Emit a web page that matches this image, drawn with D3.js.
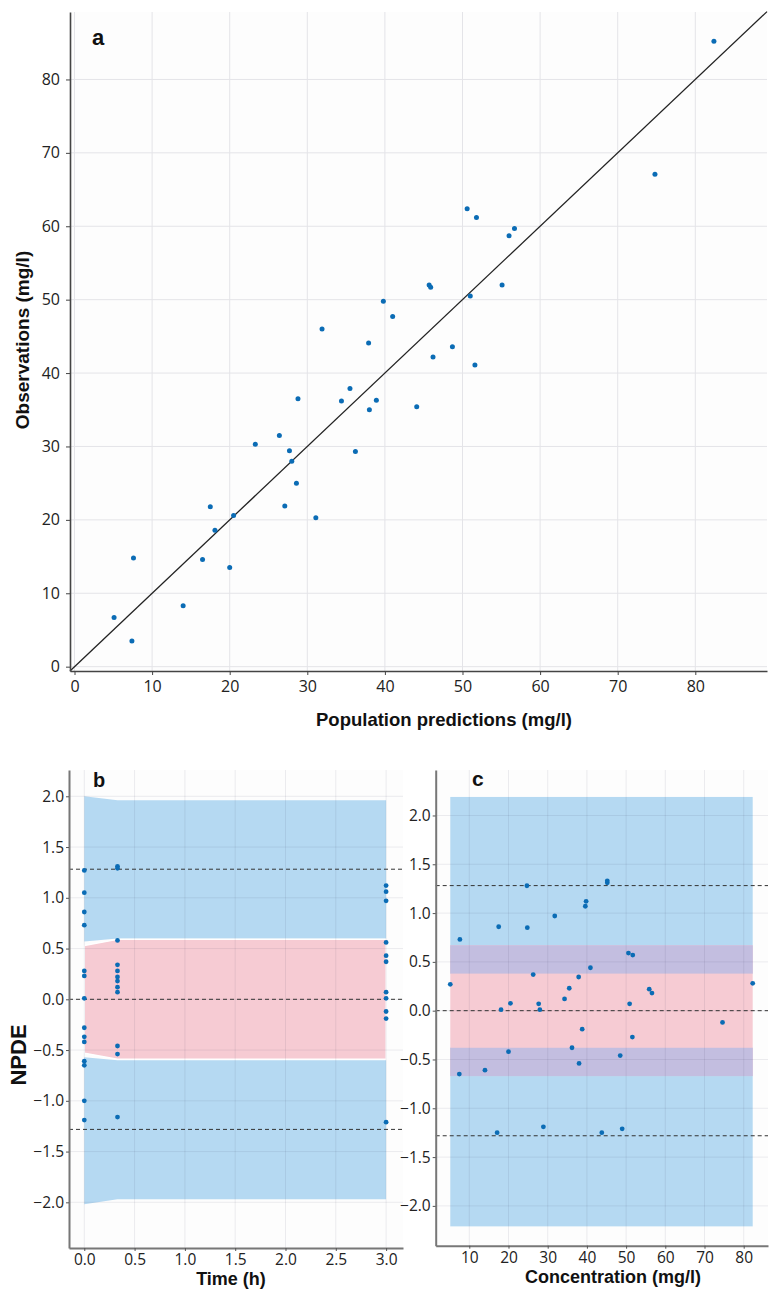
<!DOCTYPE html>
<html>
<head>
<meta charset="utf-8">
<script src="https://cdn.jsdelivr.net/npm/d3@7"></script>
<style>
  body { margin: 0; background: #fff; }
  text { font-family: "Open Sans", sans-serif; }
  .ttl { font-family: "Liberation Sans", Arial, sans-serif; font-weight: bold; fill: #111; }
</style>
</head>
<body>
<script>
// ---- panel a : observations vs population predictions
var predA = [5.1, 7.4, 7.6, 14.0, 16.5, 17.5, 18.1, 20.0, 20.5, 23.3, 26.4, 27.1, 27.7, 28.0, 28.6, 28.8, 31.1, 31.9, 34.4, 35.5,
             36.2, 37.9, 38.0, 38.9, 39.8, 41.0, 44.1, 45.7, 45.9, 46.2, 48.7, 50.6, 51.0, 51.6, 51.8, 55.1, 56.0, 56.7, 74.8, 82.4];
var obsA  = [6.7, 3.5, 14.8, 8.3, 14.6, 21.8, 18.6, 13.5, 20.6, 30.3, 31.5, 21.9, 29.4, 28.0, 25.0, 36.5, 20.3, 46.0, 36.2, 37.9,
             29.3, 44.1, 35.0, 36.3, 49.8, 47.7, 35.4, 52.0, 51.7, 42.2, 43.6, 62.4, 50.5, 41.1, 61.2, 52.0, 58.7, 59.7, 67.1, 85.2];
var ticksA = [0, 10, 20, 30, 40, 50, 60, 70, 80];

// ---- panel b : NPDE vs time
var timeB = [0, 0, 0, 0, 0, 0, 0, 0, 0, 0, 0, 0, 0, 0,
             0.33, 0.33, 0.33, 0.33, 0.33, 0.33, 0.33, 0.33, 0.33, 0.33, 0.33, 0.33,
             3, 3, 3, 3, 3, 3, 3, 3, 3, 3, 3];
var npdeB = [1.27, 1.05, 0.86, 0.73, 0.28, 0.23, 0.01, -0.28, -0.37, -0.42, -0.61, -0.65, -1.0, -1.19,
             1.31, 1.29, 0.58, 0.34, 0.28, 0.22, 0.18, 0.12, 0.07, -0.46, -0.54, -1.16,
             1.12, 1.06, 0.97, 0.56, 0.43, 0.37, 0.07, 0.01, -0.12, -0.19, -1.21];
var bandTimeB = [0, 0.33, 3];
var upHiB  = [2.0, 1.96, 1.96],   upLoB  = [0.57, 0.60, 0.60];
var midHiB = [0.53, 0.59, 0.59],  midLoB = [-0.53, -0.59, -0.59];
var lowHiB = [-0.57, -0.60, -0.60], lowLoB = [-2.02, -1.97, -1.97];
var ticksXB = [0, 0.5, 1, 1.5, 2, 2.5, 3];

// ---- panel c : NPDE vs concentration
var concC = [5.15, 7.45, 7.6, 14.0, 17.1, 17.5, 18.1, 20.0, 20.5, 24.7, 24.8, 26.3, 27.7, 28.0, 28.9, 31.8, 34.3, 35.5, 36.2,
             37.9, 38.0, 38.8, 39.6, 39.8, 40.9, 43.8, 45.2, 45.2, 48.5, 49.0, 50.6, 50.9, 51.6, 51.7, 55.9, 56.6, 74.6, 82.3];
var npdeC = [0.27, -0.65, 0.73, -0.61, -1.25, 0.86, 0.01, -0.42, 0.075, 1.28, 0.85, 0.37, 0.07, 0.01, -1.19, 0.97, 0.12, 0.23, -0.38,
             0.345, -0.54, -0.19, 1.07, 1.12, 0.44, -1.25, 1.33, 1.31, -0.46, -1.21, 0.59, 0.07, -0.27, 0.57, 0.22, 0.18, -0.12, 0.28];
var bandConcC = [5.15, 82.3];
var upperC = [0.38, 2.19], middleC = [-0.67, 0.67], lowerC = [-2.21, -0.38];
var ticksXC = [10, 20, 30, 40, 50, 60, 70, 80];
var ticksY = [-2, -1.5, -1, -0.5, 0, 0.5, 1, 1.5, 2];
var refLines = [-1.2816, 0, 1.2816];

var dotColor = "#0b6cb5", blue = "#b5d9f2", pink = "#f6cbd3", purple = "#c3bee0";

var svg = d3.select("body").append("svg").attr("width", 769).attr("height", 1290);
var fmt1 = d3.format(".1f");

// ================= panel a
var xA = d3.scaleLinear().domain([-0.58, 89.24]).range([70, 767]);
var yA = d3.scaleLinear().domain([-0.59, 89.19]).range([671, 12]);
var gA = svg.append("g");
gA.append("rect").attr("x", 70).attr("y", 12).attr("width", 697).attr("height", 659).attr("fill", "#fdfdfd");
gA.selectAll(".gx").data(ticksA).join("line")
  .attr("x1", d => xA(d)).attr("x2", d => xA(d)).attr("y1", 12).attr("y2", 671)
  .attr("stroke", "#e4e4e8").attr("stroke-width", 1);
gA.selectAll(".gy").data(ticksA).join("line")
  .attr("y1", d => yA(d)).attr("y2", d => yA(d)).attr("x1", 70).attr("x2", 767)
  .attr("stroke", "#e4e4e8").attr("stroke-width", 1);
var dom = xA.domain();
gA.append("line").attr("x1", xA(dom[0])).attr("y1", yA(dom[0])).attr("x2", xA(dom[1])).attr("y2", yA(dom[1]))
  .attr("stroke", "#222").attr("stroke-width", 1.3);
gA.selectAll("circle").data(predA).join("circle")
  .attr("cx", d => xA(d)).attr("cy", (d, i) => yA(obsA[i])).attr("r", 2.5).attr("fill", dotColor);

var axA = gA.append("g").attr("transform", "translate(0,671)")
  .call(d3.axisBottom(xA).tickValues(ticksA).tickSize(4).tickPadding(6).tickSizeOuter(0));
var ayA = gA.append("g").attr("transform", "translate(70,0)")
  .call(d3.axisLeft(yA).tickValues(ticksA).tickSize(4).tickPadding(6).tickSizeOuter(0));
[axA, ayA].forEach(function (g) {
  g.select(".domain").attr("stroke", "#444").attr("stroke-width", 1.6);
  g.selectAll(".tick line").attr("stroke", "#444");
  g.selectAll(".tick text").attr("font-size", 16).attr("fill", "#222").attr("font-family", "Open Sans");
});
gA.append("text").attr("class", "ttl").attr("x", 92).attr("y", 45).attr("font-size", 22).text("a");
gA.append("text").attr("class", "ttl").attr("x", 444).attr("y", 726).attr("text-anchor", "middle")
  .attr("font-size", 18.5).text("Population predictions (mg/l)");
gA.append("text").attr("class", "ttl").attr("transform", "translate(29,340) rotate(-90)").attr("text-anchor", "middle")
  .attr("font-size", 19).text("Observations (mg/l)");

// ================= shared pieces for NPDE panels
function npdePanel(g, x, y, x0, x1, y0, y1, xticks, xfmt) {
  g.selectAll(".gx").data(xticks).join("line").attr("class", "gx")
    .attr("x1", d => x(d)).attr("x2", d => x(d)).attr("y1", y0).attr("y2", y1)
    .attr("stroke", "rgba(60,60,90,0.09)");
  g.selectAll(".gy").data(ticksY).join("line").attr("class", "gy")
    .attr("y1", d => y(d)).attr("y2", d => y(d)).attr("x1", x0).attr("x2", x1)
    .attr("stroke", "rgba(60,60,90,0.09)");
  g.selectAll(".ref").data(refLines).join("line").attr("class", "ref")
    .attr("y1", d => y(d)).attr("y2", d => y(d)).attr("x1", x0).attr("x2", x1)
    .attr("stroke", "#333").attr("stroke-width", 1).attr("stroke-dasharray", "4,3");
  var ax = g.append("g").attr("transform", "translate(0," + y1 + ")")
    .call(d3.axisBottom(x).tickValues(xticks).tickFormat(xfmt).tickSize(3).tickPadding(3).tickSizeOuter(0));
  var ay = g.append("g").attr("transform", "translate(" + x0 + ",0)")
    .call(d3.axisLeft(y).tickValues(ticksY).tickFormat(fmt1).tickSize(3).tickPadding(2).tickSizeOuter(0));
  [ax, ay].forEach(function (a) {
    a.select(".domain").attr("stroke", "#777").attr("stroke-width", 2);
    a.selectAll(".tick line").attr("stroke", "#555");
    a.selectAll(".tick text").attr("font-size", 15.5).attr("fill", "#222").attr("font-family", "Open Sans");
  });
}

// ================= panel b
var xB = d3.scaleLinear().domain([-0.152, 3.168]).range([69, 403]);
var yB = d3.scaleLinear().domain([-2.45, 2.259]).range([1248, 770]);
var gB = svg.append("g");
gB.append("rect").attr("x", 69).attr("y", 770).attr("width", 334).attr("height", 478).attr("fill", "#fdfdfd");
function bandB(hi, lo, color, stroke) {
  var area = d3.area().x((d, i) => xB(bandTimeB[i])).y0((d, i) => yB(lo[i])).y1(d => yB(d));
  gB.append("path").attr("d", area(hi)).attr("fill", color)
    .attr("stroke", stroke || "none").attr("stroke-width", 1.4);
}
bandB(upHiB, upLoB, blue);
bandB(lowHiB, lowLoB, blue);
bandB(midHiB, midLoB, pink, "#fff");
npdePanel(gB, xB, yB, 69, 403, 770, 1248, ticksXB, fmt1);
gB.selectAll("circle").data(timeB).join("circle")
  .attr("cx", d => xB(d)).attr("cy", (d, i) => yB(npdeB[i])).attr("r", 2.4).attr("fill", dotColor);
gB.append("text").attr("class", "ttl").attr("x", 93).attr("y", 787).attr("font-size", 20).text("b");
gB.append("text").attr("class", "ttl").attr("x", 231).attr("y", 1285).attr("text-anchor", "middle")
  .attr("font-size", 18).text("Time (h)");
gB.append("text").attr("class", "ttl").attr("transform", "translate(26,1055) rotate(-90)").attr("text-anchor", "middle")
  .attr("font-size", 22).text("NPDE");

// ================= panel c
var xC = d3.scaleLinear().domain([1.43, 86.2]).range([435.7, 768]);
var yC = d3.scaleLinear().domain([-2.408, 2.466]).range([1245.7, 770]);
var gC = svg.append("g");
gC.append("rect").attr("x", 435.7).attr("y", 770).attr("width", 332).attr("height", 476).attr("fill", "#fdfdfd");
function rectC(band, color) {
  gC.append("rect").attr("x", xC(bandConcC[0])).attr("width", xC(bandConcC[1]) - xC(bandConcC[0]))
    .attr("y", yC(band[1])).attr("height", yC(band[0]) - yC(band[1])).attr("fill", color);
}
rectC(upperC, blue);
rectC(lowerC, blue);
rectC(middleC, pink);
[upperC, lowerC].forEach(function (b) {
  var lo = Math.max(b[0], middleC[0]), hi = Math.min(b[1], middleC[1]);
  if (hi > lo) rectC([lo, hi], purple);
});
npdePanel(gC, xC, yC, 435.7, 768, 770, 1245.7, ticksXC, d3.format("d"));
gC.selectAll("circle").data(concC).join("circle")
  .attr("cx", d => xC(d)).attr("cy", (d, i) => yC(npdeC[i])).attr("r", 2.4).attr("fill", dotColor);
gC.append("text").attr("class", "ttl").attr("x", 472).attr("y", 786).attr("font-size", 21).text("c");
gC.append("text").attr("class", "ttl").attr("x", 613).attr("y", 1283).attr("text-anchor", "middle")
  .attr("font-size", 18).text("Concentration (mg/l)");
</script>
</body>
</html>
